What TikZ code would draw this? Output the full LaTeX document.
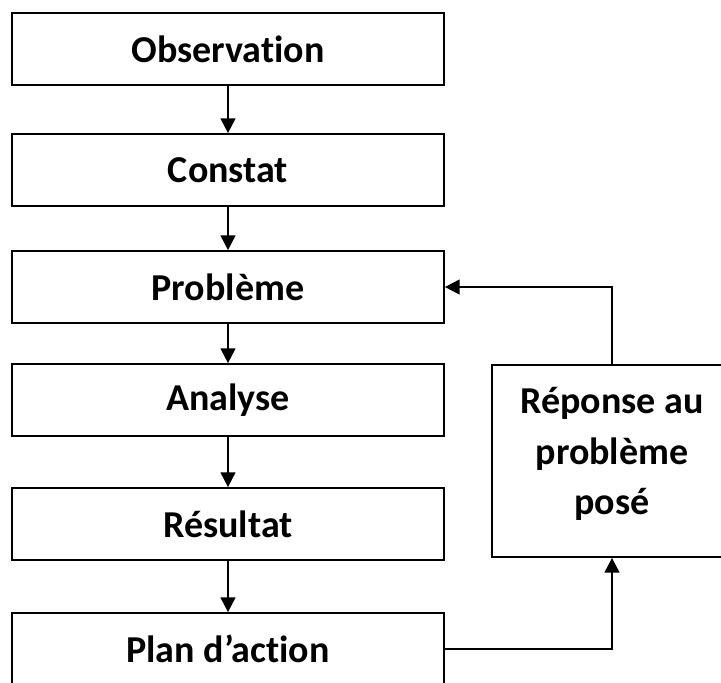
\documentclass[tikz,border=0pt]{standalone}
\usepackage{fontspec}
\setmainfont{Carlito}[Ligatures = NoCommon]
\usepackage{tikz}
\usetikzlibrary{positioning,arrows.meta}

\tikzset{
  label text/.style = {font = \fontsize{28.5pt}{38pt}\selectfont\bfseries},
  box/.style = {draw, line width = 1.3pt, rectangle, minimum width = 324pt,
    minimum height = 54pt, inner sep = 0pt, label text},
  flow/.style = {line width = 1.5pt, -{Triangle[length = 11pt, width = 11pt]}}
}

\begin{document}
\begin{tikzpicture}[x = .75pt, y = -.75pt]
\useasboundingbox (0,0) rectangle (721,682);
\clip (0,0) rectangle (721,682);
\node[box] (obs) at (228,49) {Observation};
\node[box] (const) at (228,170) {Constat};
\node[box] (prob) at (228,287) {Problème};
\node[box] (ana) at (228,400) {Analyse};
\node[box] (res) at (228,524) {Résultat};
\node[box] (plan) at (228,649) {Plan d'action};
\node[box, minimum width = 180pt, minimum height = 144pt] (rep) at (612,461) {};
\node[label text, align = center] (reptxt) at (612,454) {Réponse au\\problème\\posé};
%\node (titre) at (228,0) {};
\draw[flow] (obs) -- (const);
\draw[flow] (const) -- (prob);
\draw[flow] (prob) -- (ana);
\draw[flow] (ana) -- (res);
\draw[flow] (res) -- (plan);
\draw[flow] (plan.east) -| (rep.south);
\draw[flow] (rep.north) |- (prob.east);
\end{tikzpicture}
\end{document}
